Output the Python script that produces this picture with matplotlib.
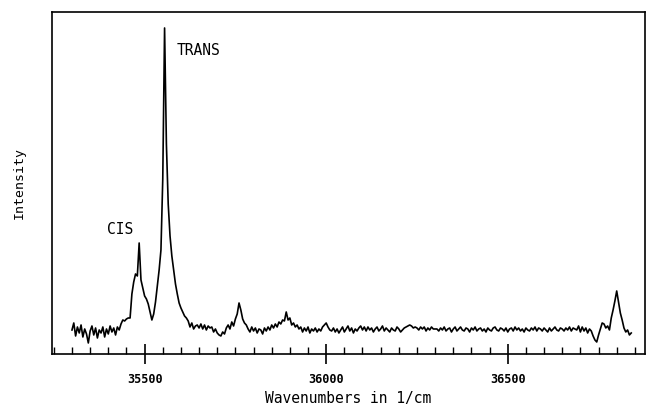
from matplotlib import pyplot as plt
from matplotlib.ticker import MultipleLocator
import numpy as np

plt.rcParams['font.family'] = ['DejaVu Sans Mono']

wn_start = 35300
wn_step = 5
intensity = [
    24, 31, 18, 27, 21, 29, 17, 25, 20, 11,
    23, 28, 19, 26, 16, 24, 21, 27, 17, 25,
    20, 28, 22, 26, 19, 27, 24, 30, 34, 33,
    35, 36, 36, 60, 72, 80, 78, 111, 74, 66,
    58, 55, 50, 42, 34, 40, 52, 68, 84, 104,
    175, 326, 210, 150, 118, 98, 84, 70, 60, 51,
    46, 42, 38, 36, 33, 27, 31, 25, 28, 29,
    26, 30, 25, 29, 24, 28, 26, 27, 22, 25,
    21, 19, 18, 22, 20, 26, 29, 25, 32, 28,
    35, 40, 51, 44, 35, 31, 29, 25, 22, 27,
    23, 26, 21, 25, 24, 20, 26, 23, 27, 24,
    29, 26, 30, 27, 32, 30, 34, 33, 42, 34,
    36, 29, 31, 27, 29, 25, 27, 22, 26, 23,
    27, 21, 25, 23, 26, 22, 25, 23, 27, 29,
    31, 27, 24, 23, 26, 22, 25, 21, 24, 27,
    22, 25, 28, 23, 26, 21, 25, 23, 26, 28,
    24, 27, 23, 27, 24, 26, 22, 25, 27, 23,
    25, 28, 23, 26, 24, 22, 26, 24, 23, 27,
    25, 22, 24, 26, 27, 28, 29, 28, 26, 27,
    26, 24, 27, 25, 27, 23, 26, 24, 27, 25,
    25,
    25, 23, 26, 24, 27, 23, 25, 26, 22, 25,
    27, 23, 25, 27, 24, 23, 26, 25, 22, 26,
    24, 27, 23, 25, 26, 23, 25, 22, 26, 24,
    23, 26, 27, 24, 23, 26, 25, 23, 26, 22,
    25, 26, 23, 27, 24, 26, 23, 25, 22, 26,
    24, 23, 26, 24, 27, 23, 26, 25, 23, 26,
    24, 22, 26, 23, 25, 27, 24, 23, 26, 25,
    23, 26, 24, 27, 23, 26, 25,
    24, 28, 22, 27, 23, 26, 21, 25, 23, 18, 14, 12,
    19, 25, 31, 30, 26, 28, 24, 36, 44, 53,
    63, 52, 41, 34, 26, 22, 24, 19, 21,
]
wavenumber = wn_start + wn_step * np.arange(len(intensity))

major_ticks = [35500, 36000, 36500]
tick_labels = ['35500', '36000', '36500']

fig = plt.figure(figsize=(6.46, 4.08), dpi=100)
ax = fig.add_axes([0.0805, 0.1324, 0.918, 0.8382])
ax.plot(wavenumber, intensity, color='black', linewidth=1.2)

ax.set_xlim(35245, 36878)
ax.set_ylim(0, 342)
ax.set_xticks(major_ticks)
ax.set_xticklabels(tick_labels, fontsize=8.5, fontweight='bold')
ax.xaxis.set_minor_locator(MultipleLocator(50))
ax.tick_params(axis='x', which='major', direction='inout', length=14, width=1.2, pad=7)
ax.tick_params(axis='x', which='minor', direction='in', length=5, width=1.0)
ax.set_yticks([])

for s in ax.spines.values():
    s.set_linewidth(1.2)

ax.set_xlabel('Wavenumbers in 1/cm', fontsize=10.5, labelpad=3)
ax.set_ylabel('Intensity', fontsize=9.5, labelpad=19)

ax.text(35588, 303, 'TRANS', fontsize=10.5, va='center', ha='left')
ax.text(35396, 124, 'CIS', fontsize=10.5, va='center', ha='left')

fig.savefig('out.png', dpi=100)
